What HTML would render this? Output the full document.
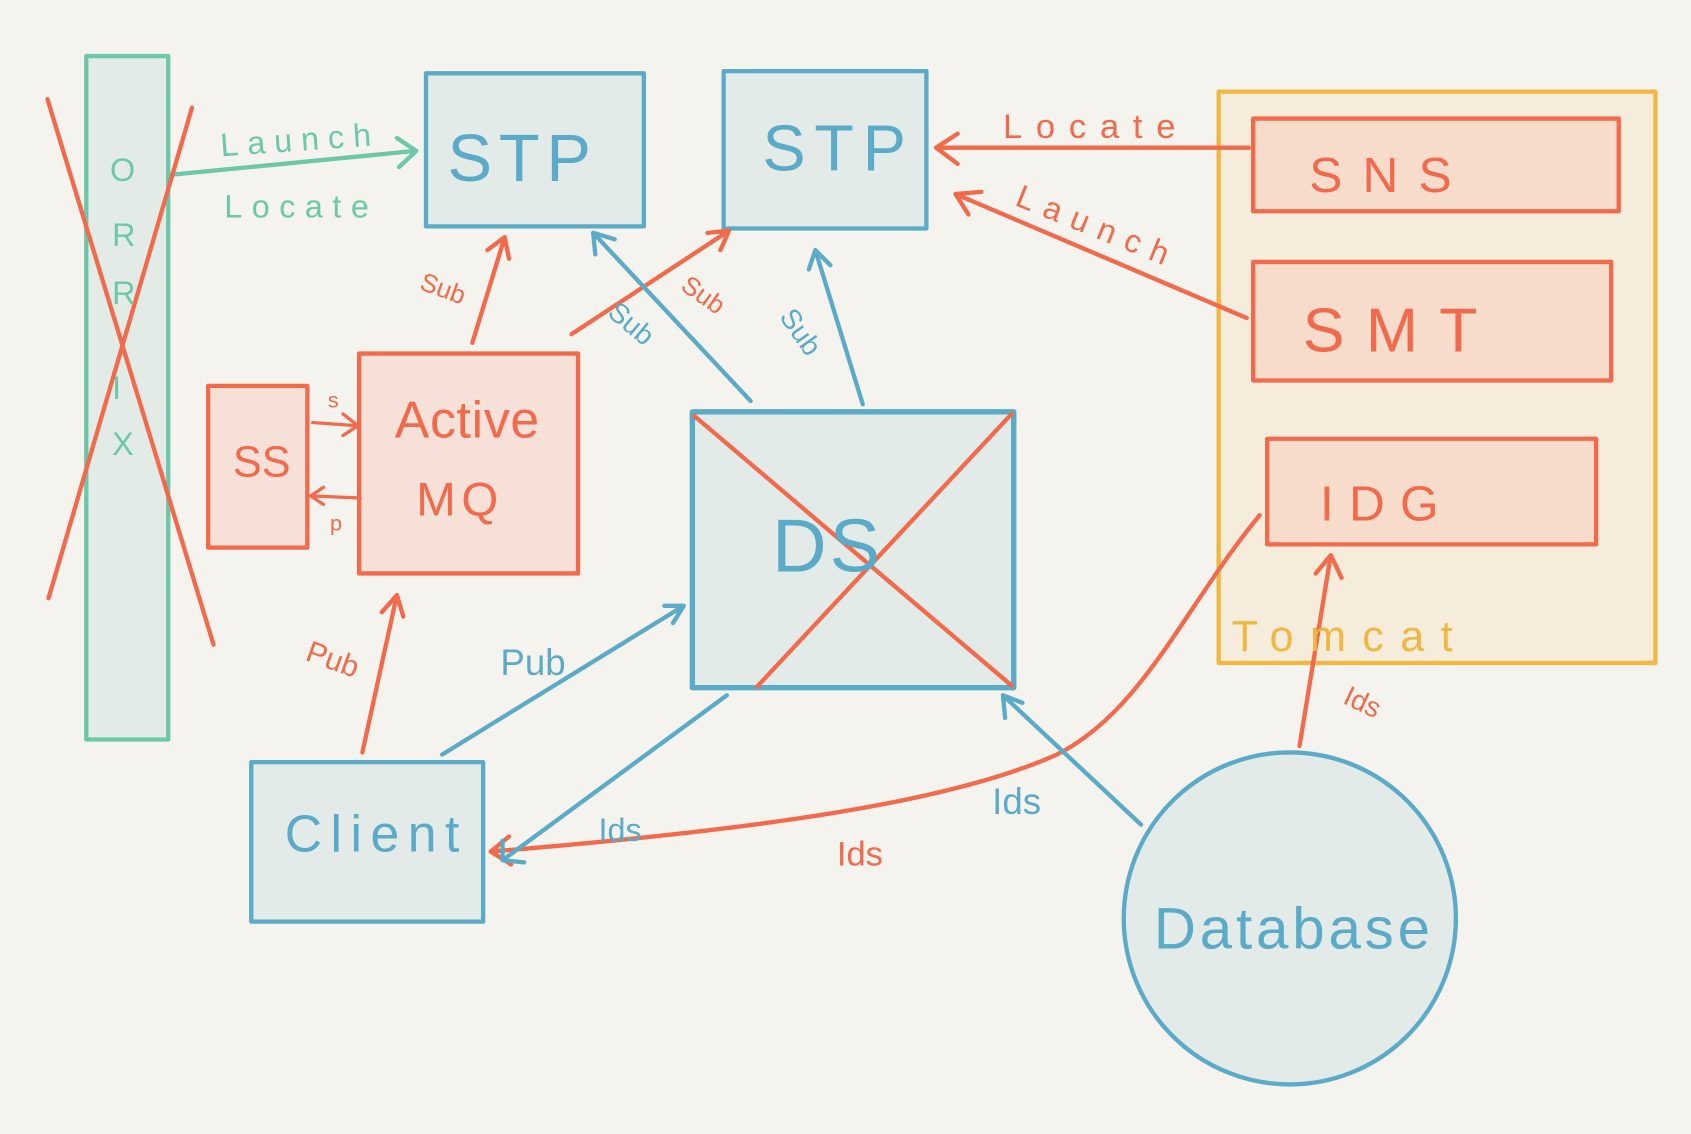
<!DOCTYPE html>
<html><head><meta charset="utf-8"><style>
html,body{margin:0;padding:0;background:#f5f3ee;}
svg{display:block;}
text{font-family:"Liberation Sans",sans-serif;}
</style></head><body>
<svg width="1691" height="1134" viewBox="0 0 1568 1052" preserveAspectRatio="none" xmlns="http://www.w3.org/2000/svg">
<rect width="1568" height="1052" fill="#f5f3ee"/>
<g stroke-linecap="round" stroke-linejoin="round" fill="none">
<rect x="80" y="52" width="76" height="634" fill="#e3ebe6" stroke="#6cc8a8" stroke-width="4"/>
<rect x="1130" y="85" width="405" height="530" fill="#f5ecdc" stroke="#f0b840" stroke-width="4"/>
<rect x="395" y="68" width="202" height="142" fill="#e3ebe8" stroke="#5aaac8" stroke-width="4"/>
<rect x="671" y="66" width="188" height="146" fill="#e3ebe8" stroke="#5aaac8" stroke-width="4"/>
<rect x="1162" y="110" width="339" height="86" fill="#f7dccb" stroke="#f26a4b" stroke-width="4"/>
<rect x="1162" y="243" width="332" height="110" fill="#f7dccb" stroke="#f26a4b" stroke-width="4"/>
<rect x="1175" y="407" width="305" height="98" fill="#f7dccb" stroke="#f26a4b" stroke-width="4"/>
<rect x="193" y="358" width="92" height="150" fill="#f7e0d8" stroke="#f26a4b" stroke-width="4"/>
<rect x="333" y="328" width="203" height="204" fill="#f7e0d8" stroke="#f26a4b" stroke-width="4"/>
<rect x="642" y="382" width="298" height="256" fill="#e3ebe8" stroke="#5aaac8" stroke-width="5"/>
<rect x="233" y="707" width="215" height="148" fill="#e3ebe8" stroke="#5aaac8" stroke-width="4"/>
<circle cx="1196" cy="852" r="154" fill="#e3ebe8" stroke="#5aaac8" stroke-width="4"/>

<path d="M160 162 L385 140 M368 128 L386 140 L370 155" stroke="#6cc8a8" stroke-width="4"/>
<path d="M1158 137 L868 137 M888 124 L868 137 L888 152" stroke="#f26a4b" stroke-width="4"/>
<path d="M1156 295 L886 180 M898 199 L886 180 L910 178" stroke="#f26a4b" stroke-width="4"/>
<path d="M438 318 L468 220 M452 232 L468 220 L472 240" stroke="#f26a4b" stroke-width="4"/>
<path d="M530 310 L676 214 M656 216 L676 214 L668 232" stroke="#f26a4b" stroke-width="4"/>
<path d="M290 392 L332 395 M318 384 L332 395 L318 404" stroke="#f26a4b" stroke-width="3"/>
<path d="M334 462 L288 460 M300 452 L288 460 L300 468" stroke="#f26a4b" stroke-width="3"/>
<path d="M336 698 L368 552 M354 568 L368 552 L374 572" stroke="#f26a4b" stroke-width="4"/>
<path d="M1205 692 L1234 515 M1220 532 L1234 515 L1244 536" stroke="#f26a4b" stroke-width="4"/>
<path d="M1168 478 C1100 560 1060 660 980 700 C880 745 700 770 455 790 M472 776 L455 790 L474 802" stroke="#f26a4b" stroke-width="4"/>
<path d="M696 372 L550 216 M552 236 L550 216 L570 222" stroke="#5aaac8" stroke-width="4"/>
<path d="M800 375 L756 232 M750 250 L756 232 L770 246" stroke="#5aaac8" stroke-width="4"/>
<path d="M410 700 L634 562 M616 562 L634 562 L624 578" stroke="#5aaac8" stroke-width="4"/>
<path d="M674 645 L466 798 M466 780 L466 798 L486 800" stroke="#5aaac8" stroke-width="4"/>
<path d="M1058 765 L930 645 M932 666 L930 645 L948 652" stroke="#5aaac8" stroke-width="4"/>
<path d="M44 92 L198 598 M178 100 L45 555" stroke="#f26a4b" stroke-width="4"/>
<path d="M644 386 L938 636 M938 384 L702 637" stroke="#f26a4b" stroke-width="4"/>
</g>
<g font-family="Liberation Sans, sans-serif" lengthAdjust="spacing">
<text x="415" y="168" font-size="62" fill="#5aaac8" textLength="133">STP</text>
<text x="707" y="158" font-size="60" fill="#5aaac8" textLength="133">STP</text>
<text x="1214" y="178" font-size="46" fill="#f26a4b" textLength="132">SNS</text>
<text x="1208" y="326" font-size="58" fill="#f26a4b" textLength="162">SMT</text>
<text x="1224" y="483" font-size="46" fill="#f26a4b" textLength="110">IDG</text>
<text x="216" y="442" font-size="40" fill="#f26a4b">SS</text>
<text x="366" y="406" font-size="48" fill="#f26a4b" textLength="134">Active</text>
<text x="386" y="478" font-size="44" fill="#f26a4b" textLength="76">MQ</text>
<text x="716" y="530" font-size="70" fill="#5aaac8" textLength="100">DS</text>
<text x="264" y="790" font-size="48" fill="#5aaac8" textLength="162">Client</text>
<text x="1070" y="880" font-size="54" fill="#5aaac8" textLength="256">Database</text>
<text x="1142" y="604" font-size="40" fill="#f0b840" textLength="205">Tomcat</text>
<text x="102" y="168" font-size="30" fill="#6cc8a8">O</text>
<text x="104" y="228" font-size="30" fill="#6cc8a8">R</text>
<text x="104" y="282" font-size="30" fill="#6cc8a8">R</text>
<text x="104" y="370" font-size="30" fill="#6cc8a8">I</text>
<text x="104" y="422" font-size="30" fill="#6cc8a8">X</text>
<text x="205" y="145" font-size="30" fill="#6cc8a8" transform="rotate(-4 205 145)" textLength="140">Launch</text>
<text x="208" y="202" font-size="30" fill="#6cc8a8" textLength="134">Locate</text>
<text x="930" y="128" font-size="32" fill="#f26a4b" textLength="160">Locate</text>
<text x="940" y="190" font-size="30" fill="#f26a4b" transform="rotate(22 940 190)" textLength="150">Launch</text>
<text x="388" y="268" font-size="24" fill="#f26a4b" transform="rotate(20 388 268)">Sub</text>
<text x="630" y="268" font-size="24" fill="#f26a4b" transform="rotate(35 630 268)">Sub</text>
<text x="562" y="292" font-size="26" fill="#5aaac8" transform="rotate(40 562 292)">Sub</text>
<text x="722" y="294" font-size="26" fill="#5aaac8" transform="rotate(55 722 294)">Sub</text>
<text x="304" y="378" font-size="20" fill="#f26a4b">s</text>
<text x="306" y="492" font-size="20" fill="#f26a4b">p</text>
<text x="282" y="612" font-size="28" fill="#f26a4b" transform="rotate(20 282 612)">Pub</text>
<text x="464" y="626" font-size="34" fill="#5aaac8">Pub</text>
<text x="1244" y="652" font-size="26" fill="#f26a4b" transform="rotate(25 1244 652)">Ids</text>
<text x="920" y="755" font-size="34" fill="#5aaac8">Ids</text>
<text x="555" y="780" font-size="30" fill="#5aaac8">Ids</text>
<text x="776" y="803" font-size="32" fill="#f26a4b">Ids</text>
</g>
</svg>
</body></html>
